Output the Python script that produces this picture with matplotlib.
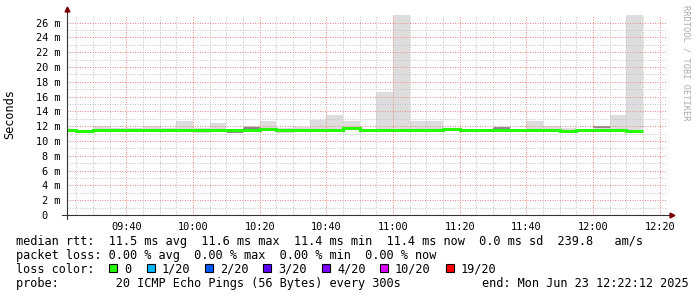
import matplotlib
matplotlib.use('Agg')
import matplotlib.pyplot as plt
from matplotlib.patches import Rectangle
import numpy as np

plt.rcParams['font.family'] = ['DejaVu Sans Mono']

W, H = 697, 297

# minutes after 09:20, one bin every 300 s
bin_start = np.arange(0, 175, 5)
median = [11.55, 11.35, 11.55, 11.45, 11.55, 11.55, 11.5, 11.5, 11.5, 11.5,
          11.55, 11.55, 11.6, 11.5, 11.5, 11.55, 11.55, 11.7, 11.55, 11.55,
          11.5, 11.5, 11.55, 11.65, 11.55, 11.45, 11.5, 11.45, 11.55, 11.55,
          11.4, 11.5, 11.55, 11.55, 11.35]
smoke_lo = [11.35, 11.1, 11.35, 11.3, 11.35, 11.35, 11.3, 11.3, 11.05, 11.3,
            11.3, 11.35, 11.4, 11.1, 11.3, 11.35, 11.35, 11.5, 11.35, 11.35,
            11.3, 11.3, 11.35, 11.45, 11.35, 11.25, 11.3, 11.25, 11.35, 11.3,
            11.2, 11.3, 11.35, 11.35, 11.15]
smoke_hi = [11.6, 11.5, 12.1, 11.7, 11.8, 12.0, 11.8, 12.7, 11.7, 12.5,
            11.6, 12.0, 12.7, 11.75, 11.9, 12.8, 13.5, 12.7, 11.6, 16.6,
            30.0, 12.7, 12.7, 11.7, 11.6, 11.5, 11.8, 11.5, 12.7, 12.1,
            11.75, 11.6, 11.8, 13.5, 30.0]
dark_bins = [10, 11, 21, 26, 27, 32]
dark_vals = [11.25, 11.75, 11.3, 11.75, 11.3, 11.85]

x_ticks = np.arange(20, 181, 20)
x_labels = ['09:40', '10:00', '10:20', '10:40', '11:00', '11:20', '11:40', '12:00', '12:20']
y_ticks = np.arange(0, 27, 2)
y_labels = ['0  '] + [f'{v} m' for v in y_ticks[1:]]

loss_labels = ['0', '1/20', '2/20', '3/20', '4/20', '10/20', '19/20']
loss_colors = ['#26ff00', '#00b8ff', '#0059ff', '#5e00ff', '#7e00ff', '#dd00ff', '#ff0000']

stats_line = 'median rtt:  11.5 ms avg  11.6 ms max  11.4 ms min  11.4 ms now  0.0 ms sd  239.8   am/s'
loss_line = 'packet loss: 0.00 % avg  0.00 % max  0.00 % min  0.00 % now'
probe_line = 'probe:        20 ICMP Echo Pings (56 Bytes) every 300s'
end_line = 'end: Mon Jun 23 12:22:12 2025'

fig = plt.figure(figsize=(W / 100, H / 100), dpi=100)
fig.patch.set_facecolor('white')
ax = fig.add_axes([67 / W, 1 - 215 / H, 600 / W, 200 / H])

edges = np.append(bin_start, bin_start[-1] + 5)
ax.stairs(smoke_hi, edges, baseline=smoke_lo, fill=True, color='#dddddd', zorder=1)
for b, v in zip(dark_bins, dark_vals):
    ax.hlines(v, edges[b], edges[b + 1], color='#777777', lw=1.2, zorder=1.5)
ax.stairs(median, edges, baseline=None, color='#26ff00', lw=2.2, zorder=3)

ax.set_xlim(2.2, 182.2)
ax.set_ylim(0, 27.04)
ax.set_xticks(x_ticks)
ax.set_xticklabels(x_labels)
ax.set_xticks(np.arange(5, 182, 5), minor=True)
ax.set_yticks(y_ticks)
ax.set_yticklabels(y_labels)
ax.set_yticks(np.arange(1, 27, 1), minor=True)
ax.tick_params(which='both', length=0, labelsize=7.4, pad=5, colors='black')
ax.grid(which='minor', color='#c4c4c4', ls=(0, (1, 1.5)), lw=0.72)
ax.grid(which='major', color='#f08888', ls=(0, (1, 1.5)), lw=0.72)
ax.set_axisbelow(False)
for s in ax.spines.values():
    s.set_visible(False)

# axis lines with arrows
ax.plot([0, 0], [-0.02, 1.03], transform=ax.transAxes, clip_on=False, color='#333333', lw=0.8, zorder=4)
ax.plot([-0.008, 1.008], [0, 0], transform=ax.transAxes, clip_on=False, color='#333333', lw=0.8, zorder=4)
ax.plot(0, 1.03, marker='^', ms=3.5, color='#7f0000', transform=ax.transAxes, clip_on=False, zorder=5)
ax.plot(1.008, 0, marker='>', ms=3.5, color='#7f0000', transform=ax.transAxes, clip_on=False, zorder=5)

fig.text(10 / W, 1 - 114 / H, 'Seconds', rotation=90, ha='center', va='center', fontsize=8.6)
fig.text(686 / W, 1 - 5 / H, 'RRDTOOL / TOBI OETIKER', rotation=270, ha='center', va='top',
         fontsize=6.2, color='#aaaaaa')

fig.text(16 / W, 1 - 241 / H, stats_line, ha='left', va='center', fontsize=8.6)
fig.text(16 / W, 1 - 256 / H, loss_line, ha='left', va='center', fontsize=8.6)
fig.text(16 / W, 1 - 269.5 / H, 'loss color:', ha='left', va='center', fontsize=8.6)
sq_x = [109, 147, 205, 263, 322, 380, 446]
for x, lab, c in zip(sq_x, loss_labels, loss_colors):
    fig.add_artist(Rectangle((x / W, 1 - 272 / H), 8 / W, 8 / H, transform=fig.transFigure,
                             facecolor=c, edgecolor='black', lw=0.8))
    fig.text((x + 15) / W, 1 - 269.5 / H, lab, ha='left', va='center', fontsize=8.6)
fig.text(16 / W, 1 - 283.5 / H, probe_line, ha='left', va='center', fontsize=8.6)
fig.text(482 / W, 1 - 283.5 / H, end_line, ha='left', va='center', fontsize=8.6)

fig.savefig('out.png', dpi=100, facecolor='white')
